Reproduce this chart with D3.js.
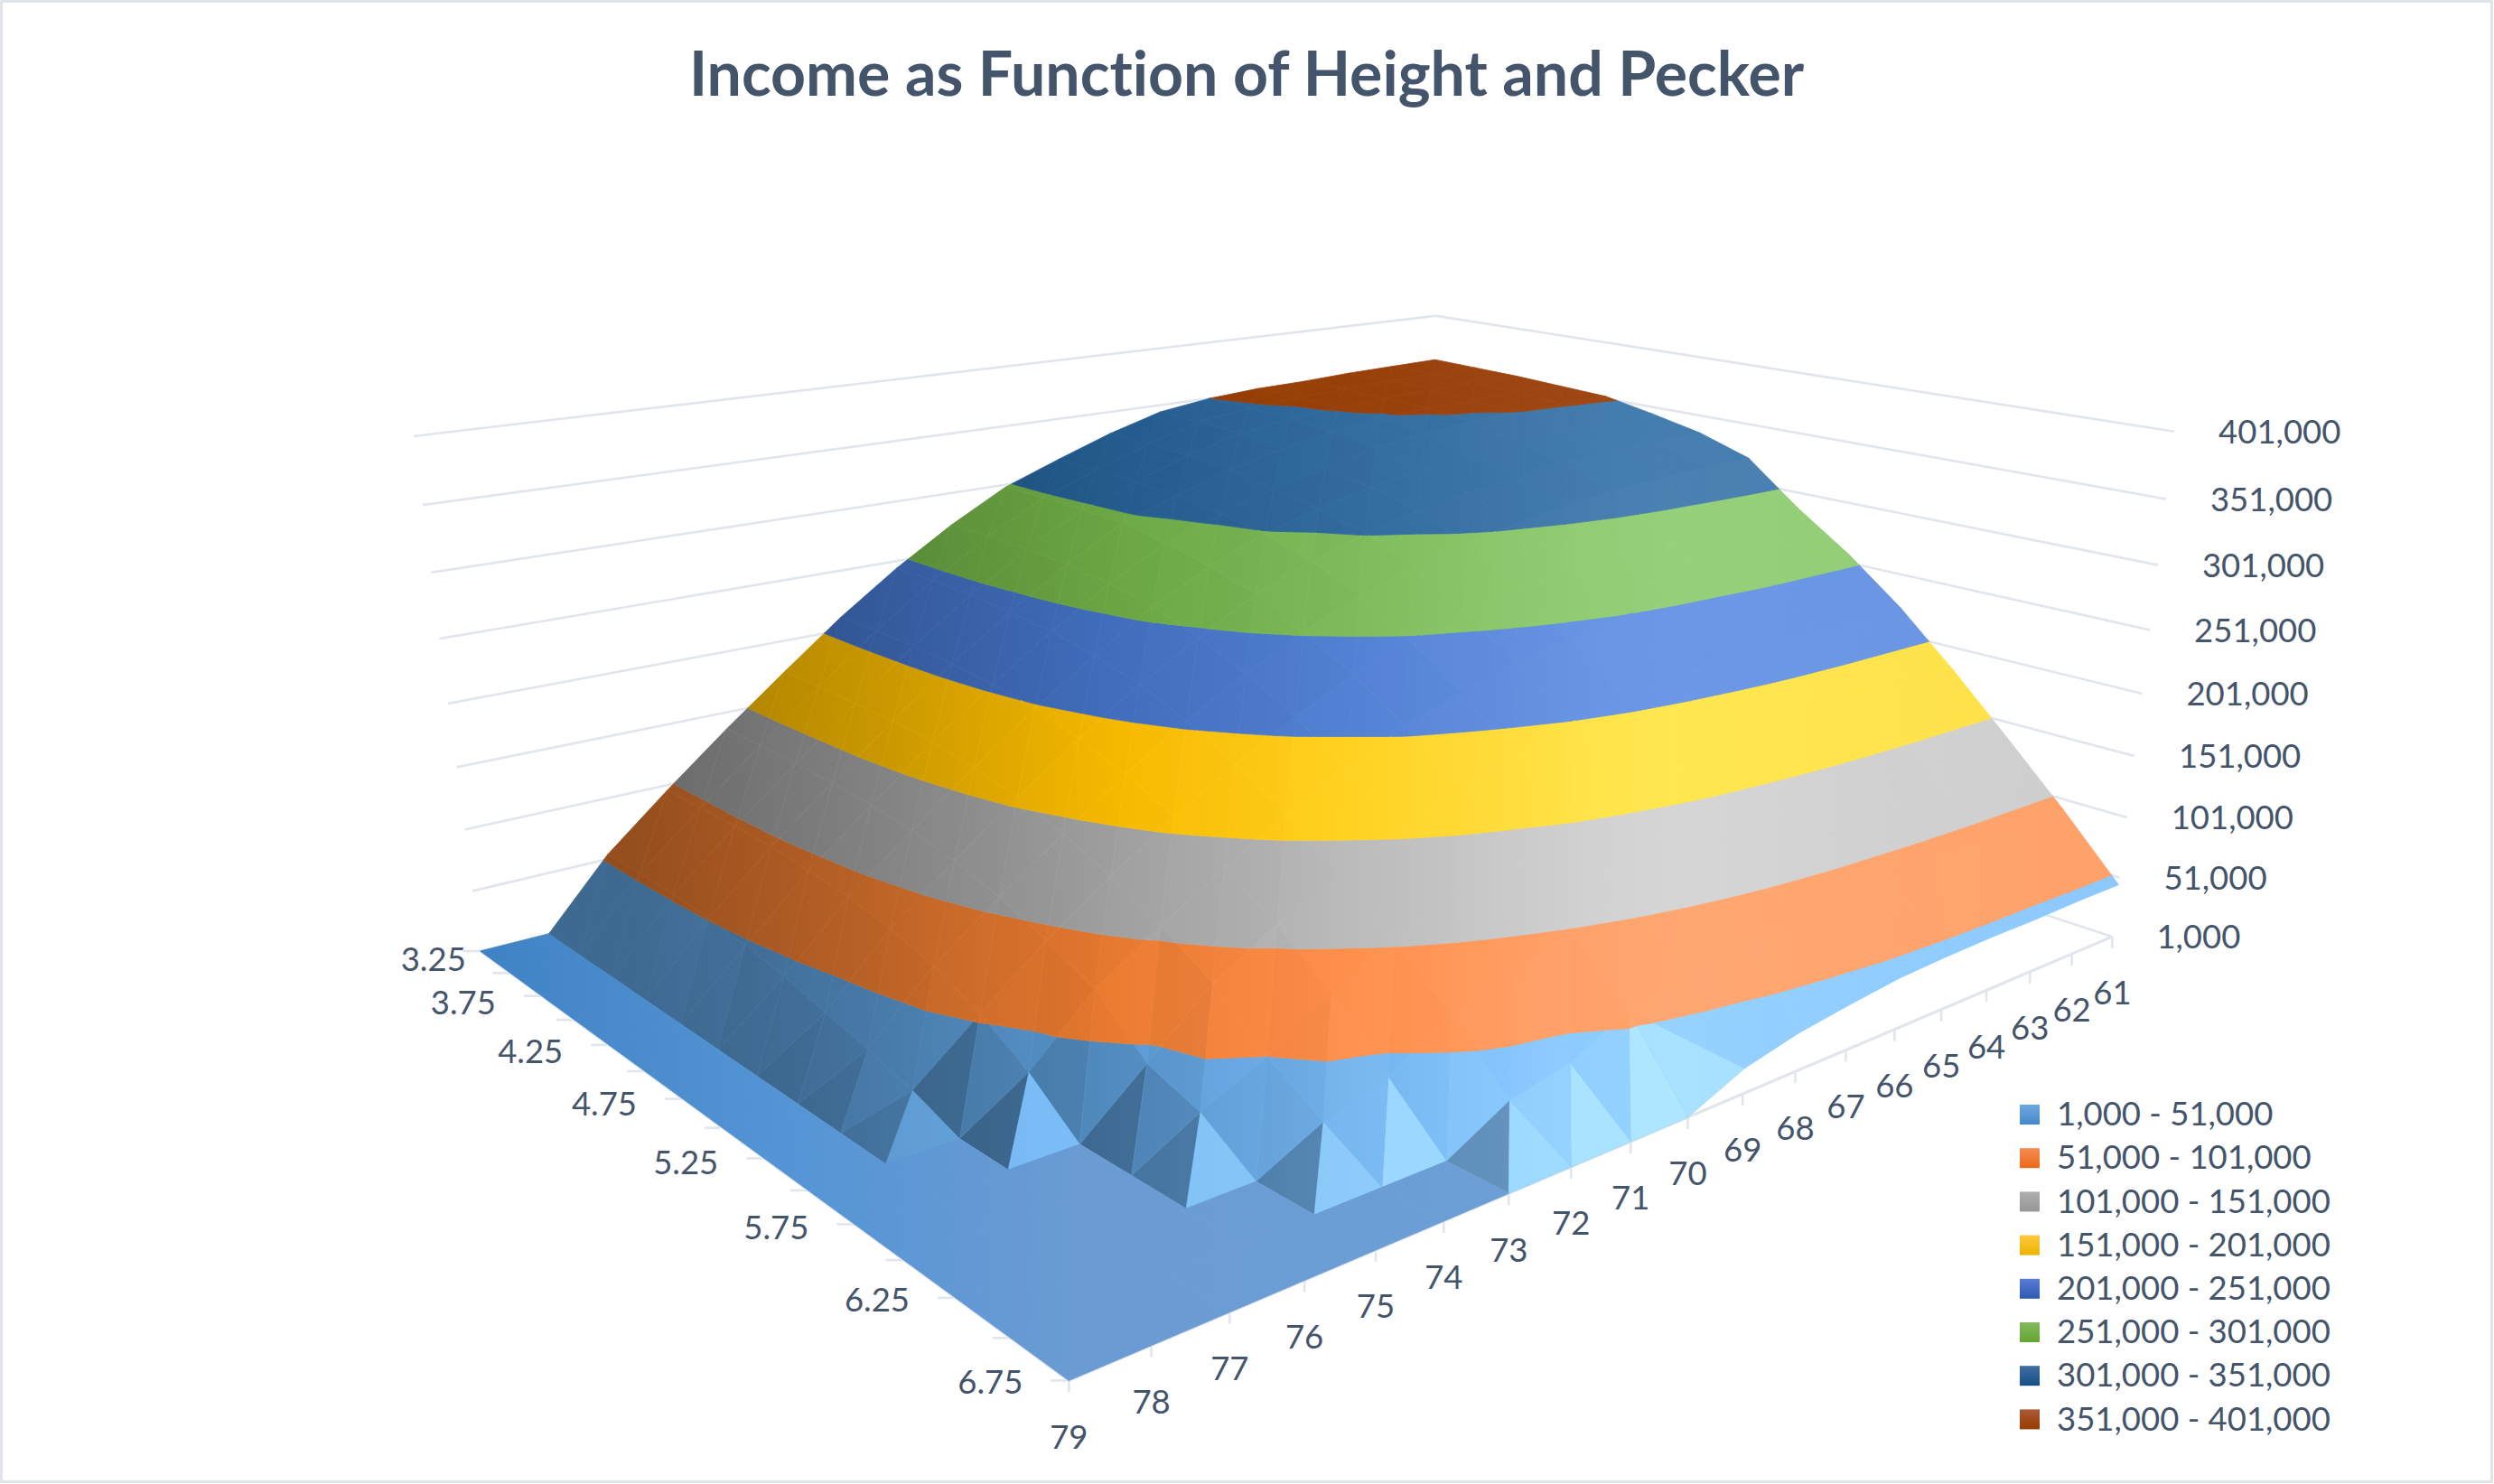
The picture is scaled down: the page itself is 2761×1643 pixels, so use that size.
<!DOCTYPE html>
<html><head><meta charset="utf-8">
<style>html,body{margin:0;padding:0;background:#fff}svg{display:block}text{font-family:Lato,"Open Sans",sans-serif;fill:#44546A;font-variant-ligatures:none}</style>
<script src="https://cdn.jsdelivr.net/npm/d3@7"></script></head><body><div id="c"></div>
<script>
const titleText = "Income as Function of Height and Pecker";
const pecker = [3.25,3.5,3.75,4,4.25,4.5,4.75,5,5.25,5.5,5.75,6,6.25,6.5,6.75];
const peckerLabels = [3.25,3.75,4.25,4.75,5.25,5.75,6.25,6.75];
const heights = [79,78,77,76,75,74,73,72,71,70,69,68,67,66,65,64,63,62,61];
const levels = [1,51,101,151,201,251,301,351,401]; // thousands
const bandColors = ["#5B9BD5","#ED7D31","#A5A5A5","#FFC000","#4472C4","#70AD47","#255E91","#933C00"];
const bandGain = [1.6,1.15,1.4,1.15,1,1,.9,.35];
const legendTop = ["#6FA8E0","#F58C55","#AFAFAF","#FFC83C","#5A7DD2","#82B95F","#416EA0","#AA5A37"];
const legendBottom = ["#4688CB","#EB6919","#969696","#EBB400","#2D5AB4","#64A532","#145087","#963C00"];
// income in thousands: one row per pecker value, one column per height (79 ... 61)
const income = [
[1,1,55,97,137,175,212,245,274,299,316,332,345,351,354,355,357,358,359],
[1,1,55,97,137,175,212,245,274,299,315,331,344,350,353,355,357,358,358],
[1,1,54,97,136,174,211,244,273,298,314,330,342,348,352,354,356,357,357],
[1,1,52,96,135,173,209,241,271,297,312,326,337,345,350,353,354,355,355],
[1,1,48,93,132,170,205,237,266,290,306,319,329,339,345,349,351,352,353],
[1,1,42,89,127,164,199,230,259,282,300,312,322,329,335,338,341,343,345],
[1,1,33,82,120,156,189,220,246,271,288,302,312,319,325,330,333,335,336],
[1,1,25,72,109,143,176,205,231,253,272,286,297,304,311,316,319,321,322],
[1,1,15,55,94,128,159,186,211,232,249,261,271,278,283,286,287,288,288],
[1,1,1,32,77,108,137,163,185,206,221,234,243,250,254,256,258,258,258],
[1,1,1,1,42,85,112,135,156,174,188,200,209,215,219,222,223,223,223],
[1,1,1,1,28,51,82,104,123,138,152,162,170,175,179,181,182,182,182],
[1,1,1,1,1,25,40,69,86,100,112,121,128,132,135,137,138,138,138],
[1,1,1,1,1,1,1,27,37,59,70,78,84,88,90,92,93,93,93],
[1,1,1,1,1,1,1,1,1,1,20,30,36,41,43,44,44,45,45]
];
const floorStops = [[300,"#3F82C4"],[500,"#5595D5"],[672,"#6A9BD3"],[1060,"#6EA0D8"]];

const W=2761,H=1643,S=W/1568;
const svg=d3.select("#c").append("svg").attr("width",W).attr("height",H);
const defs=svg.append("defs");
svg.append("rect").attr("x",1.5).attr("y",1.5).attr("width",W-4).attr("height",H-4).attr("fill","#fff").attr("stroke","#DFE3EA").attr("stroke-width",3);
const fmt=d3.format(",");
const pu=d3.scaleLinear().domain([3.25,6.75]).range([0,1]);
const pv=d3.scaleLinear().domain([79,61]).range([0,1]);
const pw=d3.scaleLinear().domain([1,401]).range([0,1]);
function depth(u,v,w){return 1-.30046*u+.32037*v-.07387*w;}
function project(u,v,w){const D=depth(u,v,w);
  return [(168.1*u+884.35*v+302-61.2*w)/D*S,(9.2*u-6.5*v+598-344*w)/D*S];}
const line=d3.line();
const GRID="#E1E5EC";
const g=svg.append("g");
levels.forEach(l=>{const w=pw(l);
  g.append("path").attr("d",line([project(0,0,w),project(0,1,w),project(1,1,w)])).attr("fill","none").attr("stroke",GRID).attr("stroke-width",2.6);
});
g.append("path").attr("d",line([project(0,0,0),project(1,0,0),project(1,1,0)])).attr("fill","none").attr("stroke",GRID).attr("stroke-width",3.2);
pecker.forEach(p=>{const [x,y]=project(pu(p),0,0);
  g.append("line").attr("x1",x).attr("y1",y).attr("x2",x-20).attr("y2",y).attr("stroke",GRID).attr("stroke-width",2.6);});
heights.forEach(h=>{const [x,y]=project(1,pv(h),0);
  g.append("line").attr("x1",x).attr("y1",y).attr("x2",x).attr("y2",y+13).attr("stroke",GRID).attr("stroke-width",2.6);});

function bandColor(b,xd){
  const l=(xd-400)/600, c=d3.rgb(bandColors[b]);
  if(l<.5){const s=.68+.32*Math.max(0,l)/.5;return d3.rgb(c.r*s,c.g*s,c.b*s)+"";}
  let t=Math.min(l-.5,.55)/.65*bandGain[b];
  if(xd>1030)t*=1-(xd-1030)/1350;
  const add=40*t, ex=Math.max(0,120-c.b)*.3*t;
  return d3.rgb(c.r+add,c.g+add,c.b+add+ex)+"";
}
const X0=250,X1=1400;
bandColors.forEach((c,b)=>{
  const lg=defs.append("linearGradient").attr("id","band"+b).attr("gradientUnits","userSpaceOnUse").attr("x1",X0*S).attr("x2",X1*S).attr("y1",0).attr("y2",0);
  d3.range(X0,X1+1,50).forEach(x=>lg.append("stop").attr("offset",(x-X0)/(X1-X0)).attr("stop-color",bandColor(b,x)));
});
const fg=defs.append("linearGradient").attr("id","floorG").attr("gradientUnits","userSpaceOnUse").attr("x1",300*S).attr("x2",1060*S).attr("y1",0).attr("y2",0);
floorStops.forEach(([x,c])=>fg.append("stop").attr("offset",(x-300)/760).attr("stop-color",c));

// surface triangles: each cell is split along its near-vertical diagonal
const flippedCell=(k,i)=>k===13&&i===9;
const tris=[];
for(let k=0;k<pecker.length-1;k++)for(let i=0;i<heights.length-1;i++){
  const vtx=(a,b)=>({u:pu(pecker[a]),v:pv(heights[b]),z:income[a][b]});
  const a=vtx(k,i),b=vtx(k+1,i),c=vtx(k+1,i+1),d=vtx(k,i+1);
  if(flippedCell(k,i))tris.push([a,b,c],[a,c,d]);else tris.push([a,b,d],[b,c,d]);
}
tris.forEach(t=>{t.depth=d3.mean(t,p=>depth(p.u,p.v,pw(p.z)));});
tris.sort((x,y)=>y.depth-x.depth);
function clip(poly,level,keepAbove){const out=[];
  for(let i=0;i<poly.length;i++){const p=poly[i],q=poly[(i+1)%poly.length];
    const pin=keepAbove?p.z>=level:p.z<=level, qin=keepAbove?q.z>=level:q.z<=level;
    if(pin)out.push(p);
    if(pin!==qin){const t=(level-p.z)/(q.z-p.z);out.push({u:p.u+t*(q.u-p.u),v:p.v+t*(q.v-p.v),z:level});}
  }return out;}
function normal(t){const [a,b,c]=t,Z=.5;
  const e1=[b.u-a.u,b.v-a.v,(pw(b.z)-pw(a.z))*Z],e2=[c.u-a.u,c.v-a.v,(pw(c.z)-pw(a.z))*Z];
  let n=[e1[1]*e2[2]-e1[2]*e2[1],e1[2]*e2[0]-e1[0]*e2[2],e1[0]*e2[1]-e1[1]*e2[0]];
  const L=Math.hypot(...n);n=n.map(x=>x/L);if(n[2]<0)n=n.map(x=>-x);return n;}
const spikeLight=d3.scaleLinear().domain([600,1060]).range(["#7CC0FF","#B4EAFF"]).clamp(true);
const spikeDarkFade=d3.scaleLinear().domain([430,580]).range([0,1]).clamp(true);
const sg=svg.append("g");
tris.forEach(t=>{
  const flat=t.every(p=>p.z===levels[0]);
  if(flat){
    const d=line(t.map(p=>project(p.u,p.v,0)))+"Z";
    sg.append("path").attr("d",d).attr("fill","url(#floorG)").attr("stroke","url(#floorG)").attr("stroke-width",1);
    return;
  }
  const n=normal(t), s=n[0]+n[1];
  const onFloor=t.some(p=>p.z===levels[0]);
  d3.range(levels.length-1).forEach(b=>{
    let poly=clip(t,levels[b],true);if(poly.length<3)return;
    poly=clip(poly,levels[b+1],false);if(poly.length<3)return;
    if(b>0&&poly.every(p=>p.z===levels[b]))return;
    if(poly.every(p=>p.z===levels[b+1]))return;
    const pts=poly.map(p=>project(p.u,p.v,pw(p.z))), d=line(pts)+"Z", cx=d3.mean(pts,p=>p[0])/S;
    sg.append("path").attr("d",d).attr("fill",`url(#band${b})`).attr("stroke",`url(#band${b})`).attr("stroke-width",.8).attr("stroke-linejoin","round");
    let col,op;
    if(onFloor&&b===0){
      if(s>0){col=spikeLight(cx);op=Math.min(.9,1.7*s);}
      else{col="#000";op=Math.min(.3,.5*-s)*spikeDarkFade(cx);}
    }else{col=s<0?"#000":"#fff";op=.1*Math.abs(s);}
    sg.append("path").attr("d",d).attr("fill",col).attr("fill-opacity",op);
  });
});

// axis labels
const FS=36.5;
peckerLabels.forEach((p,i)=>{const [x,y]=project(pu(p),0,0);
  svg.append("text").attr("x",x-(i===0?52:87)).attr("y",y+12.5-7.5*pu(p)).attr("text-anchor","middle").attr("dominant-baseline","middle").attr("font-size",FS).text(p.toFixed(2));});
heights.forEach(h=>{const [x,y]=project(1,pv(h),0);
  svg.append("text").attr("x",x).attr("y",y+66).attr("text-anchor","middle").attr("dominant-baseline","middle").attr("font-size",FS).text(h);});
levels.forEach(l=>{const [x,y]=project(1,1,pw(l));
  svg.append("text").attr("x",x+49).attr("y",y+4).attr("dominant-baseline","middle").attr("font-size",FS).text(fmt(l*1000));});
svg.append("text").attr("x",1380).attr("y",106).attr("text-anchor","middle").attr("font-size",68).attr("font-weight",700).text(titleText);
// legend
bandColors.forEach((c,i)=>{const lg=defs.append("linearGradient").attr("id","lg"+i).attr("x1",0).attr("y1",0).attr("x2",0).attr("y2",1);
  lg.append("stop").attr("offset",0).attr("stop-color",legendTop[i]);lg.append("stop").attr("offset",1).attr("stop-color",legendBottom[i]);
  const yy=1223+i*48.2;
  svg.append("rect").attr("x",2236).attr("y",yy).attr("width",22).attr("height",22).attr("fill",`url(#lg${i})`);
  svg.append("text").attr("x",2277).attr("y",yy+14).attr("dominant-baseline","middle").attr("font-size",FS).text(fmt(levels[i]*1000)+" - "+fmt(levels[i+1]*1000));
});
</script></body></html>
